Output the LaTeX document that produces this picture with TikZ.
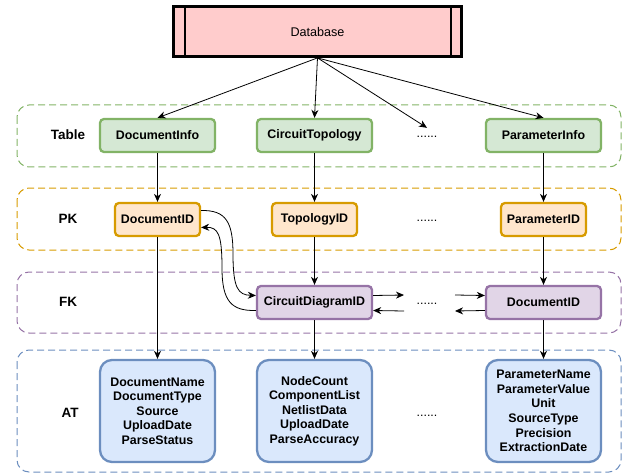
\documentclass[tikz,border=0pt]{standalone}
\usepackage{fontspec}
\setmainfont{Liberation Sans}
\usetikzlibrary{arrows.meta}
\definecolor{grnD}{HTML}{82B366}
\definecolor{grnF}{HTML}{D5E8D4}
\definecolor{orD}{HTML}{D79B00}
\definecolor{orF}{HTML}{FFE6CC}
\definecolor{puD}{HTML}{9673A6}
\definecolor{puF}{HTML}{E1D5E7}
\definecolor{blD}{HTML}{6C8EBF}
\definecolor{blF}{HTML}{DAE8FC}
\definecolor{dbF}{HTML}{FFCCCC}
\begin{document}
\begin{tikzpicture}[x=1pt,y=-1pt,
  box/.style={draw, rounded corners=4pt, line width=2.3pt, minimum width=115pt, minimum height=33pt,
    font=\bfseries\fontsize{12.4}{14.6}\selectfont, align=center, inner sep=2pt},
  tbl/.style={box, draw=grnD, fill=grnF},
  pkbox/.style={box, draw=orD, fill=orF, minimum width=85pt},
  fkbox/.style={box, draw=puD, fill=puF},
  atbox/.style={box, draw=blD, fill=blF, minimum height=102pt, rounded corners=12pt},
  grp/.style={dash pattern=on 7pt off 4pt, rounded corners=12pt, line width=1pt},
  arr/.style={-{Stealth[length=8pt,width=7pt,inset=2.5pt]}, line width=0.8pt, draw=black},
  lbl/.style={font=\bfseries\fontsize{13.5}{16}\selectfont},
  dots/.style={font=\fontsize{12.4}{14}\selectfont, inner sep=0pt}
]
\useasboundingbox (0,0) rectangle (640,476);

% groups
\draw[grp, draw=grnD] (17,105) rectangle (621,167);
\draw[grp, draw=orD] (17,188) rectangle (621,250);
\draw[grp, draw=puD] (17,272) rectangle (621,333);
\draw[grp, draw=blD] (17,350) rectangle (621,472);

% database
\node[draw=black, line width=2.8pt, fill=dbF, minimum width=288pt, minimum height=50pt,
  font=\fontsize{12.6}{14}\selectfont] (db) at (317.5,31.5) {Database};
\draw[line width=2.4pt] ([xshift=13pt]db.north west) -- ([xshift=13pt]db.south west);
\draw[line width=2.4pt] ([xshift=-12pt]db.north east) -- ([xshift=-12pt]db.south east);

% labels
\node[lbl] (lt) at (68,135) {Table};
\node[lbl] (lp) at (68,219) {PK};
\node[lbl] (lf) at (68,302) {FK};
\node[lbl] (la) at (70,413) {AT};

% table row
\node[tbl] (t1) at (157.5,135.5) {DocumentInfo};
\node[tbl] (t2) at (314.5,135.5) {CircuitTopology};
\node[dots, minimum height=18pt] (td) at (427,137) {......};
\node[tbl] (t3) at (543.5,135.5) {ParameterInfo};

% pk row
\node[pkbox] (p1) at (157.5,219.5) {DocumentID};
\node[pkbox] (p2) at (314.5,219.5) {TopologyID};
\node[dots] (pd) at (427,221) {......};
\node[pkbox] (p3) at (543.5,219.5) {ParameterID};

% fk row
\node[fkbox] (f1) at (314.5,302.5) {CircuitDiagramID};
\node[dots] (fd) at (427,304) {......};
\node[fkbox] (f2) at (543.5,302.5) {DocumentID};

% at row
\node[atbox] (a1) at (157.5,411) {DocumentName\\DocumentType\\Source\\UploadDate\\ParseStatus};
\node[atbox] (a2) at (314.5,411) {NodeCount\\ComponentList\\NetlistData\\UploadDate\\ParseAccuracy};
\node[dots] (ad) at (427,416) {......};
\node[atbox] (a3) at (543.5,411) {ParameterName\\ParameterValue\\Unit\\SourceType\\Precision\\ExtractionDate};

% database arrows
\draw[arr] (db.south) -- (t1.north);
\draw[arr] (db.south) -- (t2.north);
\draw[arr] (db.south) -- (td.north);
\draw[arr] (db.south) -- (t3.north);

% vertical arrows
\draw[arr] (t1) -- (p1);
\draw[arr] (p1) -- (a1);
\draw[arr] (t2) -- (p2);
\draw[arr] (p2) -- (f1);
\draw[arr] (f1) -- (a2);
\draw[arr] (t3) -- (p3);
\draw[arr] (p3) -- (f2);
\draw[arr] (f2) -- (a3);

% curved FK links
\coordinate (m1) at (233,254);
\coordinate (m2) at (222,268);
\draw[arr] ([yshift=9pt]p1.east) .. controls (226,210) and (233,222) .. (m1)
  .. controls (233,288) and (238,295) .. ([yshift=7pt]f1.west);
\draw[arr] ([yshift=-8pt]f1.west) .. controls (232,311) and (222,302) .. (m2)
  .. controls (222,234) and (218,227) .. ([yshift=-8pt]p1.east);

% short arrows
\coordinate (c1) at (404,295);
\coordinate (c2) at (404,311);
\coordinate (c3) at (455,295);
\coordinate (c4) at (455,311);
\draw[arr] ([yshift=7pt]f1.east) -- (c1);
\draw[arr] (c2) -- ([yshift=-8pt]f1.east);
\draw[arr] (c3) -- ([yshift=7pt]f2.west);
\draw[arr] ([yshift=-8pt]f2.west) -- (c4);
\end{tikzpicture}
\end{document}
